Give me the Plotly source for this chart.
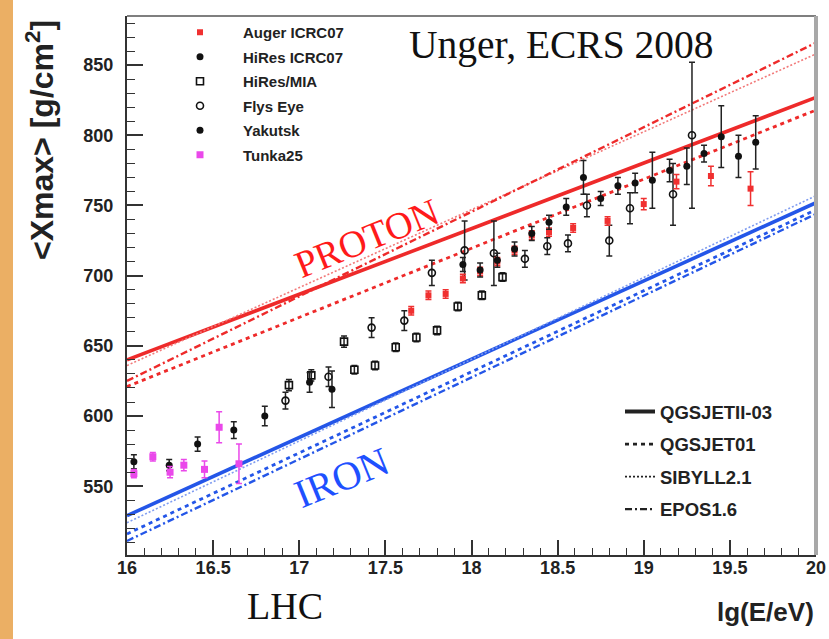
import plotly.graph_objects as go

# ---------------- data: mean depth of shower maximum ----------------
# lg(E/eV), <Xmax> [g/cm^2], statistical error
auger_lge = [17.65, 17.75, 17.85, 17.95, 18.05, 18.15, 18.25, 18.35, 18.45, 18.59, 18.79, 19.0, 19.19, 19.39, 19.62]
auger_xmax = [675, 686, 687, 698, 703, 710, 718, 729, 731, 734, 739, 751, 767, 771, 762]
auger_err = [3, 3, 3, 3, 3, 3, 3, 3, 3, 3, 3, 4, 5, 7, 12]

hires_lge = [17.95, 18.05, 18.15, 18.25, 18.35, 18.45, 18.55, 18.65, 18.75, 18.85, 18.95, 19.05, 19.15, 19.25, 19.35, 19.45, 19.55, 19.65]
hires_xmax = [708, 704, 711, 719, 730, 738, 749, 770, 755, 764, 766, 768, 775, 778, 787, 799, 785, 795]
hires_err = [5, 5, 5, 5, 5, 5, 6, 12, 5, 6, 7, 20, 8, 13, 6, 22, 15, 19]

mia_lge = [16.94, 17.07, 17.26, 17.32, 17.44, 17.56, 17.68, 17.80, 17.92, 18.06, 18.18]
mia_xmax = [622, 629, 653, 633, 636, 649, 656, 661, 678, 686, 699]
mia_err = [4, 4, 4, 3, 3, 3, 3, 3, 3, 3, 3]

fly_lge = [16.92, 17.17, 17.42, 17.61, 17.77, 17.96, 18.13, 18.31, 18.44, 18.56, 18.67, 18.80, 18.92, 19.17, 19.28]
fly_xmax = [611, 628, 663, 668, 702, 718, 716, 712, 721, 723, 750, 725, 748, 758, 800]
fly_err = [6, 7, 7, 7, 9, 21, 23, 6, 6, 6, 8, 11, 11, 22, 52]

yak_lge = [16.04, 16.245, 16.41, 16.62, 16.80, 17.06, 17.19]
yak_xmax = [567.5, 565, 580, 590, 600, 624, 619]
yak_err = [5, 4, 5, 6, 7, 7, 13]

tunka_lge = [16.04, 16.15, 16.25, 16.33, 16.45, 16.535, 16.65]
tunka_xmax = [559, 571, 560, 565, 562, 592, 566]
tunka_err = [3, 3, 4, 4, 6, 11, 14]

# ---------------- model predictions (straight lines in lg E) ----------------
model_lge = [16, 20]
model_names = ["QGSJETII-03", "QGSJET01", "SIBYLL2.1", "EPOS1.6"]
proton_xmax = {
    "QGSJETII-03": [640, 827],
    "QGSJET01": [621, 818],
    "SIBYLL2.1": [636, 858],
    "EPOS1.6": [625, 866],
}
iron_xmax = {
    "QGSJETII-03": [529, 752],
    "QGSJET01": [516, 747],
    "SIBYLL2.1": [524, 757],
    "EPOS1.6": [511, 744],
}

x_ticks = [16, 16.5, 17, 17.5, 18, 18.5, 19, 19.5, 20]
y_ticks = [550, 600, 650, 700, 750, 800, 850]

# line style per model
model_style = {
    "QGSJETII-03": dict(width=3.6, dash="solid"),
    "QGSJET01": dict(width=2.8, dash="4px,4px"),
    "SIBYLL2.1": dict(width=1.6, dash="2px,2px"),
    "EPOS1.6": dict(width=2.4, dash="7px,3px,2px,3px"),
}
RED = "#ee2a2a"
RED_LIGHT = "#f27a7a"
BLUE = "#2456e8"
BLUE_LIGHT = "#7f9cf0"

fig = go.Figure()

for name in model_names:
    st = model_style[name]
    pc = RED_LIGHT if name == "SIBYLL2.1" else RED
    bc = BLUE_LIGHT if name == "SIBYLL2.1" else BLUE
    fig.add_trace(go.Scatter(x=model_lge, y=proton_xmax[name], mode="lines",
                             line=dict(color=pc, **st), showlegend=False, hoverinfo="skip"))
    fig.add_trace(go.Scatter(x=model_lge, y=iron_xmax[name], mode="lines",
                             line=dict(color=bc, **st), showlegend=False, hoverinfo="skip"))


def err(vals, color):
    return dict(type="data", array=vals, visible=True, color=color, thickness=1.5, width=3)


fig.add_trace(go.Scatter(x=mia_lge, y=mia_xmax, mode="markers", name="HiRes/MIA",
                         marker=dict(symbol="square-open", size=7, color="#111", line=dict(width=1.6)),
                         error_y=err(mia_err, "#222"), legend="legend", legendgroup="c", legendrank=3))
fig.add_trace(go.Scatter(x=fly_lge, y=fly_xmax, mode="markers", name="Flys Eye",
                         marker=dict(symbol="circle-open", size=7, color="#111", line=dict(width=1.6)),
                         error_y=err(fly_err, "#222"), legend="legend", legendgroup="d", legendrank=4))
fig.add_trace(go.Scatter(x=yak_lge, y=yak_xmax, mode="markers", name="Yakutsk",
                         marker=dict(symbol="circle", size=7, color="#111"),
                         error_y=err(yak_err, "#222"), legend="legend", legendgroup="e", legendrank=5))
fig.add_trace(go.Scatter(x=tunka_lge, y=tunka_xmax, mode="markers", name="Tunka25",
                         marker=dict(symbol="square", size=7, color="#ea48ea"),
                         error_y=err(tunka_err, "#ea48ea"), legend="legend", legendgroup="f", legendrank=6))
fig.add_trace(go.Scatter(x=auger_lge, y=auger_xmax, mode="markers", name="Auger ICRC07",
                         marker=dict(symbol="square", size=6, color="#f03030"),
                         error_y=err(auger_err, "#f03030"), legend="legend", legendgroup="a", legendrank=1))
fig.add_trace(go.Scatter(x=hires_lge, y=hires_xmax, mode="markers", name="HiRes ICRC07",
                         marker=dict(symbol="circle", size=7, color="#111"),
                         error_y=err(hires_err, "#222"), legend="legend", legendgroup="b", legendrank=2))

# model-style key (black samples)
for i, name in enumerate(model_names):
    st = dict(model_style[name])
    if name == "QGSJETII-03":
        st["width"] = 4
    fig.add_trace(go.Scatter(x=[None], y=[None], mode="lines", name=name,
                             line=dict(color="#222", **st), legend="legend2",
                             legendgroup="m%d" % i, legendrank=i + 1))

# orange strip at the left edge of the page
fig.add_shape(type="rect", xref="paper", yref="paper",
              x0=-0.19, x1=(13 - 127) / 689, y0=-0.2, y1=1.1,
              fillcolor="#ebaf64", line=dict(width=0), layer="below")
# frame: thin top, grey right
fig.add_shape(type="line", xref="paper", yref="paper", x0=0, x1=1, y0=1, y1=1,
              line=dict(color="#555", width=1.5))
fig.add_shape(type="line", xref="paper", yref="paper", x0=1, x1=1, y0=0, y1=1,
              line=dict(color="#a8a8a8", width=4))

serif = "Liberation Serif"
ann = [
    dict(text="Unger, ECRS 2008", x=0.6313, y=0.946, font=dict(family=serif, size=39.5, color="#111")),
    dict(text="PROTON", x=0.3483, y=0.588, textangle=-22, font=dict(family=serif, size=38, color="#ff1a1a")),
    dict(text="IRON", x=0.312, y=0.1429, textangle=-22, font=dict(family=serif, size=40, color="#1e50ff")),
    dict(text="LHC", x=0.2293, y=-0.0946, font=dict(family=serif, size=38, color="#111")),
    dict(text="lg(E/eV)", x=(816 - 127) / 689, y=-0.1058, xanchor="right",
         font=dict(family="Liberation Sans", size=26, color="#222", weight="bold")),
    dict(text="&lt;Xmax&gt; [g/cm<sup>2</sup>]", x=-0.1263, y=(555 - 18) / 539, yanchor="top",
         textangle=-90, font=dict(family="Liberation Sans", size=32, color="#222", weight="bold")),
]
for a in ann:
    a.setdefault("xanchor", "center")
    a.setdefault("yanchor", "middle")
    a.update(xref="paper", yref="paper", showarrow=False)
fig.update_layout(annotations=ann)

tickfont = dict(family="Liberation Sans", size=18, color="#222", weight="bold")
fig.update_xaxes(range=[16, 20], tickvals=x_ticks, ticktext=[("%g" % v) for v in x_ticks],
                 ticks="inside", ticklen=15, tickwidth=1.5, tickcolor="#333",
                 minor=dict(ticks="inside", dtick=0.1, ticklen=7, tickwidth=1.2, tickcolor="#333"),
                 showline=True, linecolor="#333", linewidth=2, showgrid=False, zeroline=False,
                 tickfont=tickfont, ticklabelstandoff=-5, automargin=False)
fig.update_yaxes(range=[501, 885], tickvals=y_ticks, ticktext=[str(v) for v in y_ticks],
                 ticks="inside", ticklen=16, tickwidth=1.5, tickcolor="#333",
                 minor=dict(ticks="inside", dtick=10, ticklen=8, tickwidth=1.2, tickcolor="#333"),
                 showline=True, linecolor="#333", linewidth=2, showgrid=False, zeroline=False,
                 tickfont=tickfont, ticklabelstandoff=8, automargin=False)

fig.update_layout(
    width=829, height=639,
    margin=dict(l=127, r=13, t=16, b=84, autoexpand=False),
    paper_bgcolor="white", plot_bgcolor="white",
    showlegend=True,
    legend=dict(x=(157 - 127) / 689, y=1.0, xanchor="left", yanchor="top",
                bgcolor="rgba(0,0,0,0)", itemwidth=76, tracegroupgap=2,
                font=dict(family="Liberation Sans", size=15, color="#222", weight="bold"),
                traceorder="grouped"),
    legend2=dict(x=(620 - 127) / 689, y=0.3006, xanchor="left", yanchor="top",
                 bgcolor="rgba(0,0,0,0)", itemwidth=30, tracegroupgap=5.5,
                 font=dict(family="Liberation Sans", size=18.5, color="#222", weight="bold"),
                 traceorder="grouped"),
)

fig.write_html("out.html")
